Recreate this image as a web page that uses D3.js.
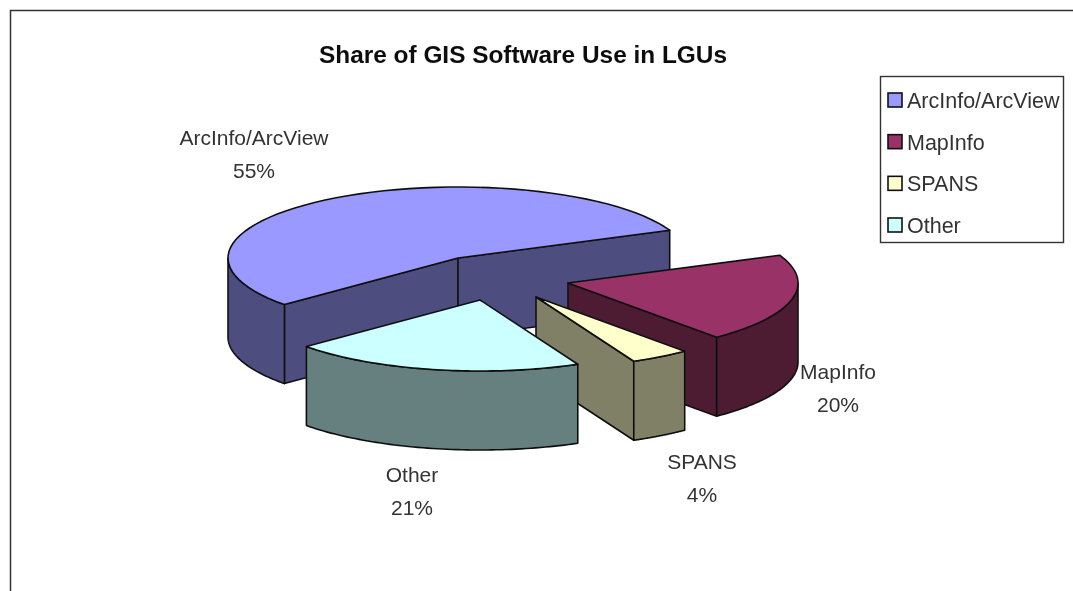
<!DOCTYPE html>
<html>
<head>
<meta charset="utf-8">
<script src="https://cdn.jsdelivr.net/npm/d3@7"></script>
<style>
html,body{margin:0;padding:0;background:#fff;overflow:hidden;}
svg{display:block;}
text{font-family:"Liberation Sans",Arial,sans-serif;}
</style>
</head>
<body>
<script>
var categories=["ArcInfo/ArcView","MapInfo","SPANS","Other"];
var shares=[55,20.2,4.2,20.6]; // labels show them rounded

var topColors=["#9999ff","#993366","#ffffcc","#ccffff"];
var sideColors=["#4d4d80","#4d1a33","#808066","#668080"];

var width=1073, height=591;
var cx=458, cy=258, rx=230, ry=71, depth=79;
var firstAngle=229*Math.PI/180;

// how far each slice is pulled out of the pie, and where its label sits
var explode=[[0,0],[110,25],[78,39],[22,42]];
var labelPos=[[254,145],[838,379],[702,469],[412,482]];

var svg=d3.select("body").append("svg").attr("width",width).attr("height",height);
svg.append("filter").attr("id","soft")
  .append("feGaussianBlur").attr("stdDeviation",0.55);

// page edge of the original screenshot
svg.append("path").attr("d","M10.5,"+height+"V10.5H"+width)
  .attr("fill","none").attr("stroke","#333").attr("stroke-width",1.5);

var root=svg.append("g").attr("filter","url(#soft)");

root.append("text")
  .attr("x",523).attr("y",63)
  .attr("text-anchor","middle")
  .attr("font-size",24.4).attr("font-weight","bold").attr("fill","#111")
  .text("Share of GIS Software Use in LGUs");

var pie=d3.pie().sort(null).startAngle(firstAngle).endAngle(firstAngle+2*Math.PI);
var slices=pie(shares);

// angle is clockwise from the top of the ellipse
function project(a,off,drop){
  return [cx+off[0]+rx*Math.sin(a), cy+off[1]-ry*Math.cos(a)+(drop||0)];
}
function arcPoints(a0,a1,off,drop){
  return d3.range(0,61).map(function(i){
    return project(a0+(a1-a0)*i/60,off,drop);
  });
}
var line=d3.line();

// the part of [a0,a1] that faces the viewer (between 90 and 270 degrees, plus full turns)
function frontParts(a0,a1){
  var parts=[];
  [0,2*Math.PI].forEach(function(t){
    var s=Math.max(a0,Math.PI/2+t), e=Math.min(a1,1.5*Math.PI+t);
    if(s<e) parts.push([s,e]);
  });
  return parts;
}

function drawWall(g,pts,fill){
  g.append("path").attr("d",line(pts)+"Z")
    .attr("fill",fill).attr("stroke","#111").attr("stroke-width",1.6).attr("stroke-linejoin","round");
}

slices.forEach(function(s,i){
  var off=explode[i];
  var g=root.append("g").attr("class","slice");
  var apex=[cx+off[0],cy+off[1]];
  var apexLow=[apex[0],apex[1]+depth];

  // flat cut faces, only those turned to the viewer
  [[s.startAngle,-Math.PI/2],[s.endAngle,Math.PI/2]].forEach(function(c){
    if(Math.cos(c[0]+c[1])<0){
      drawWall(g,[apex,project(c[0],off),project(c[0],off,depth),apexLow],sideColors[i]);
    }
  });

  // curved rim
  frontParts(s.startAngle,s.endAngle).forEach(function(p){
    var upper=arcPoints(p[0],p[1],off);
    var lower=arcPoints(p[0],p[1],off,depth).reverse();
    drawWall(g,upper.concat(lower),sideColors[i]);
  });

  g.append("path")
    .attr("d",line([apex].concat(arcPoints(s.startAngle,s.endAngle,off)))+"Z")
    .attr("fill",topColors[i]).attr("stroke","#111").attr("stroke-width",1.6).attr("stroke-linejoin","round");
});

// data labels
var labels=root.append("g").selectAll("text").data(categories).enter().append("text")
  .attr("text-anchor","middle")
  .attr("font-size",21).attr("fill","#333")
  .attr("transform",function(d,i){return "translate("+labelPos[i][0]+","+labelPos[i][1]+")";});
labels.append("tspan").attr("x",0).attr("y",0).text(function(d){return d;});
labels.append("tspan").attr("x",0).attr("y",33).text(function(d,i){return d3.format(".0f")(shares[i])+"%";});

// legend
var legend=root.append("g").attr("transform","translate(880,76)");
legend.append("rect").attr("x",0.5).attr("y",0.5).attr("width",183).attr("height",166)
  .attr("fill","#fff").attr("stroke","#333").attr("stroke-width",1.4);
var rowY=d3.scalePoint().domain(categories).range([24,149]);
var rows=legend.selectAll("g.row").data(categories).enter().append("g")
  .attr("class","row")
  .attr("transform",function(d){return "translate(0,"+rowY(d)+")";});
rows.append("rect").attr("x",8).attr("y",-7).attr("width",14).attr("height",14)
  .attr("fill",function(d,i){return topColors[i];})
  .attr("stroke","#111").attr("stroke-width",1.6);
rows.append("text").attr("x",27).attr("y",8)
  .attr("font-size",21.5).attr("fill","#333")
  .text(function(d){return d;});
</script>
</body>
</html>
